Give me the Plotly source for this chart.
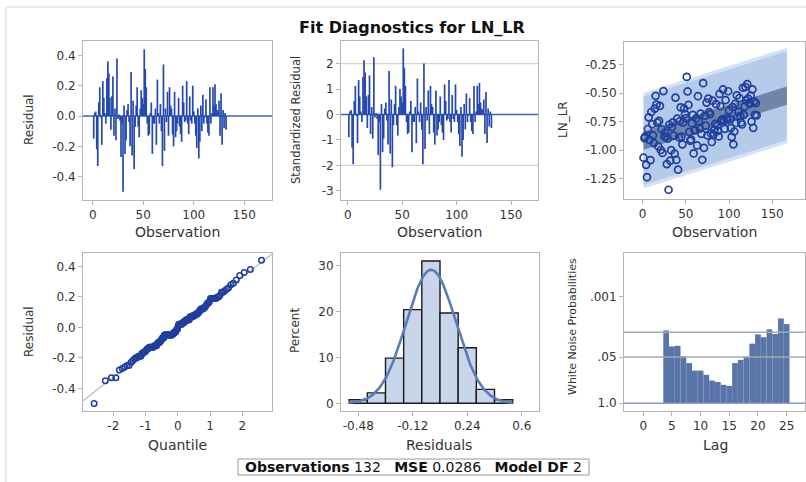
import numpy as np
import plotly.graph_objects as go
from statistics import NormalDist

# ---------------- data ----------------
residual = [
    -0.15, 0.02, 0.03, -0.22, -0.33, 0.09, 0.19, -0.01, -0.19, 0.23,
    0.12, 0.02, -0.05, 0.25, 0.36, 0.28, 0.12, -0.09, 0.13, 0.26,
    -0.13, 0.05, -0.16, 0.38, -0.02, 0.01, -0.03, -0.27, -0.05, -0.50,
    0.07, -0.25, -0.16, 0.04, 0.08, -0.04, -0.20, 0.29, -0.26, 0.10,
    -0.35, -0.07, 0.07, 0.19, -0.07, -0.14, 0.05, 0.17, 0.12, 0.08,
    0.44, 0.31, 0.19, -0.05, -0.13, -0.12, 0.02, 0.09, -0.25, -0.05,
    -0.05, 0.05, -0.19, 0.24, 0.02, -0.05, 0.08, -0.10, -0.33, 0.34,
    -0.23, 0.05, -0.04, 0.16, -0.13, 0.19, 0.07, 0.05, -0.12, -0.20,
    0.16, -0.14, -0.10, -0.05, 0.12, -0.07, -0.12, -0.17, 0.20, 0.09,
    -0.04, -0.03, 0.23, -0.05, -0.12, 0.13, -0.03, -0.05, 0.20, 0.03,
    -0.05, -0.13, -0.21, 0.05, -0.28, -0.17, 0.07, -0.10, 0.14, -0.05,
    -0.01, 0.11, -0.05, -0.11, -0.13, 0.19, -0.05, 0.02, 0.19, 0.07,
    0.21, 0.08, 0.04, 0.03, 0.10, -0.13, 0.15, -0.19, 0.04, -0.08,
    0.02, -0.09,
]
n_obs = 132
mse = 0.0286
model_df = 2

fit_intercept = -0.92
fit_slope = 0.00238
band_obs = [1, 167]
ci_half = 0.08
pi_half = 0.39

# histogram of residuals (percent per bin)
hist_centers = [-0.48, -0.36, -0.24, -0.12, 0.0, 0.12, 0.24, 0.36, 0.48]
hist_percent = [0.76, 2.27, 9.85, 20.45, 31.06, 19.70, 12.12, 3.03, 0.76]
hist_width = 0.12

# white noise probabilities
wn_lags = [4, 5, 6, 7, 8, 9, 10, 11, 12, 13, 14, 15, 16, 17, 18, 19, 20, 21, 22, 23, 24, 25]
wn_prob = [0.0089, 0.025, 0.024, 0.047, 0.074, 0.120, 0.120, 0.158, 0.229, 0.251, 0.302,
           0.324, 0.074, 0.060, 0.049, 0.021, 0.0115, 0.0138, 0.0083, 0.0112, 0.0041, 0.0059]
wn_ref_levels = [0.05, 0.01]

# tick labels
p1_xticks = [0, 50, 100, 150]
p1_yticks = [-0.4, -0.2, 0.0, 0.2, 0.4]
p1_ytext = ["-0.4", "-0.2", "0.0", "0.2", "0.4"]
p2_yticks = [-3, -2, -1, 0, 1, 2]
p2_ytext = ["-3", "-2", "-1", "0", "1", "2"]
p3_yticks = [-1.25, -1.00, -0.75, -0.50, -0.25]
p3_ytext = ["-1.25", "-1.00", "-0.75", "-0.50", "-0.25"]
p4_xticks = [-2, -1, 0, 1, 2]
p4_xtext = ["-2", "-1", "0", "1", "2"]
p5_xticks = [-0.48, -0.12, 0.24, 0.6]
p5_xtext = ["-0.48", "-0.12", "0.24", "0.6"]
p5_yticks = [0, 10, 20, 30]
p6_xticks = [0, 5, 10, 15, 20, 25]
p6_yprobs = [1.0, 0.05, 0.001]
p6_ytext = ["1.0", ".05", ".001"]

# ---------------- derived ----------------
res = np.array(residual)
obs = np.arange(1, n_obs + 1)
std_res = res / np.sqrt(mse)
ln_lr = fit_intercept + fit_slope * obs + res
mu, sd = float(res.mean()), float(res.std(ddof=1))
nd = NormalDist()
qq_x = [nd.inv_cdf((i - 0.375) / (n_obs + 0.25)) for i in range(1, n_obs + 1)]
qq_y = np.sort(res)

W, H = 806, 482
def xd(a, b):
    return [a / W, b / W]
def yd(top, bottom):
    return [1 - bottom / H, 1 - top / H]

FONT = "DejaVu Sans"
FRAME = "#b5b5b5"
TXT = "#333333"

def axis(domain, rng, tickvals, ticktext, anchor):
    return dict(domain=domain, range=rng, tickmode="array", tickvals=tickvals,
                ticktext=ticktext, anchor=anchor, showline=True, mirror=True,
                linecolor=FRAME, linewidth=1, ticks="outside", ticklen=4,
                tickwidth=1, tickcolor=FRAME, showgrid=False, zeroline=False,
                tickfont=dict(family=FONT, size=12, color=TXT), fixedrange=True)

fig = go.Figure()

NEEDLE = "#2549ad"

# ---- panel 1: residual needles
nx, ny = [], []
for o, r in zip(obs, res):
    nx += [o, o, None]
    ny += [0, r, None]
fig.add_trace(go.Scatter(x=nx, y=ny, mode="lines", line=dict(color=NEEDLE, width=1.7),
                         xaxis="x", yaxis="y", hoverinfo="skip"))

# ---- panel 2: standardized residual needles
sx, sy = [], []
for o, r in zip(obs, std_res):
    sx += [o, o, None]
    sy += [0, r, None]
fig.add_trace(go.Scatter(x=sx, y=sy, mode="lines", line=dict(color=NEEDLE, width=1.7),
                         xaxis="x2", yaxis="y2", hoverinfo="skip"))

# ---- panel 3: LN_LR with bands
bx = np.array(band_obs, dtype=float)
bfit = fit_intercept + fit_slope * bx
def band(half, color, name):
    fig.add_trace(go.Scatter(x=list(bx) + list(bx[::-1]),
                             y=list(bfit - half) + list((bfit + half)[::-1]),
                             fill="toself", fillcolor=color, line=dict(width=0),
                             mode="lines", xaxis="x3", yaxis="y3", hoverinfo="skip", name=name))
band(pi_half + 0.03, "rgba(208,222,243,0.9)", "pi_fringe")
band(pi_half, "#b6cbea", "pi")
band(ci_half, "#6f85a9", "ci")
fig.add_trace(go.Scatter(x=obs, y=ln_lr, mode="markers",
                         marker=dict(symbol="circle-open", size=7, color="#1f3f9e",
                                     line=dict(width=1.7)),
                         xaxis="x3", yaxis="y3", hoverinfo="skip"))

# ---- panel 4: QQ plot
p4_xrange = [-2.94, 2.92]
fig.add_trace(go.Scatter(x=p4_xrange, y=[mu + sd * v for v in p4_xrange], mode="lines",
                         line=dict(color="#b8b8b8", width=1.2), xaxis="x4", yaxis="y4",
                         hoverinfo="skip"))
fig.add_trace(go.Scatter(x=qq_x, y=qq_y, mode="markers",
                         marker=dict(symbol="circle-open", size=5.5, color="#1f3f9e",
                                     line=dict(width=1.5)),
                         xaxis="x4", yaxis="y4", hoverinfo="skip"))

# ---- panel 5: histogram + normal curve
fig.add_trace(go.Bar(x=hist_centers, y=hist_percent, width=hist_width,
                     marker=dict(color="#c9d5ea", line=dict(color="#1a1a1a", width=1.4)),
                     xaxis="x5", yaxis="y5", hoverinfo="skip"))
cx = np.linspace(hist_centers[0] - hist_width / 2, hist_centers[-1] + hist_width / 2, 200)
cy = [NormalDist(mu, sd).pdf(v) * hist_width * 100 for v in cx]
fig.add_trace(go.Scatter(x=cx, y=cy, mode="lines", line=dict(color="#5a7db5", width=2.6),
                         xaxis="x5", yaxis="y5", hoverinfo="skip"))

# ---- panel 6: white noise probabilities
wn_h = [-np.log10(p) for p in wn_prob]
fig.add_trace(go.Bar(x=wn_lags, y=wn_h, width=1.0,
                     marker=dict(color="#5874a8", line=dict(width=0)),
                     xaxis="x6", yaxis="y6", hoverinfo="skip"))

shapes = []
# zero lines in needle plots
for ax in ["", "2"]:
    shapes.append(dict(type="line", xref=f"x{ax} domain", yref=f"y{ax}", x0=0, x1=1, y0=0, y1=0,
                       line=dict(color="#3a62bf", width=1.5), layer="below"))
for lv in [-2, 2]:
    shapes.append(dict(type="line", xref="x2 domain", yref="y2", x0=0, x1=1, y0=lv, y1=lv,
                       line=dict(color="#dccfc6", width=1.2), layer="below"))
for lv in wn_ref_levels:
    shapes.append(dict(type="line", xref="x6 domain", yref="y6", x0=0, x1=1,
                       y0=-np.log10(lv), y1=-np.log10(lv),
                       line=dict(color="#a8a8a8", width=1.4), layer="above"))
shapes.append(dict(type="line", xref="x6 domain", yref="y6", x0=0, x1=1, y0=0, y1=0,
                   line=dict(color="#8a9cc2", width=1.4), layer="above"))
# outer graph border
shapes.append(dict(type="line", xref="paper", yref="paper", x0=6 / W, x1=1.0, y0=1 - 7 / H,
                   y1=1 - 7 / H, line=dict(color="#d6d6d6", width=1)))
shapes.append(dict(type="line", xref="paper", yref="paper", x0=6 / W, x1=6 / W, y0=0,
                   y1=1 - 7 / H, line=dict(color="#d6d6d6", width=1)))
# statistics box
shapes.append(dict(type="rect", xref="paper", yref="paper", x0=238 / W, x1=589 / W,
                   y0=1 - 475 / H, y1=1 - 459 / H, line=dict(color="#9a9a9a", width=1),
                   fillcolor="white"))

annotations = []
def ann(text, xpx, ypx, size, angle=0, bold=False):
    annotations.append(dict(text=f"<b>{text}</b>" if bold else text, xref="paper", yref="paper",
                            x=xpx / W, y=1 - ypx / H, xanchor="center", yanchor="middle",
                            showarrow=False, textangle=angle,
                            font=dict(family=FONT, size=size, color="#111" if bold else TXT)))

ann("Fit Diagnostics for LN_LR", 412, 27, 16, bold=True)
ann("Observation", 177.5, 232, 14)
ann("Observation", 439.5, 232, 14)
ann("Observation", 714.5, 232, 14)
ann("Quantile", 177, 445, 14)
ann("Residuals", 439, 445, 14)
ann("Lag", 715, 445, 14)
ann("Residual", 29, 120, 12, angle=-90)
ann("Standardized Residual", 296, 120, 11.5, angle=-90)
ann("LN_LR", 563, 120, 12, angle=-90)
ann("Residual", 29, 332, 12, angle=-90)
ann("Percent", 295, 331, 12, angle=-90)
ann("White Noise Probabilities", 572, 327, 11, angle=-90)

nb = "\u00a0"
stats_text = (f"<b>Observations</b> {n_obs}{nb}{nb} <b>MSE</b> {mse:.4f}{nb}{nb} "
              f"<b>Model DF</b> {model_df}")
annotations.append(dict(text=stats_text, xref="paper", yref="paper", x=413.5 / W,
                        y=1 - 467 / H, xanchor="center", yanchor="middle", showarrow=False,
                        font=dict(family=FONT, size=14, color="#111")))

fig.update_layout(
    width=W, height=H, margin=dict(l=0, r=0, t=0, b=0),
    paper_bgcolor="white", plot_bgcolor="white", showlegend=False,
    shapes=shapes, annotations=annotations,
    xaxis=axis(xd(83, 272), [-9.6, 177.4], p1_xticks, [str(v) for v in p1_xticks], "y"),
    yaxis=axis(yd(41, 200), [-0.554, 0.495], p1_yticks, p1_ytext, "x"),
    xaxis2=axis(xd(341, 538), [-6.2, 174.8], p1_xticks, [str(v) for v in p1_xticks], "y2"),
    yaxis2=axis(yd(41, 200), [-3.36, 2.89], p2_yticks, p2_ytext, "x2"),
    xaxis3=axis(xd(624, 805), [-21.6, 187.9], p1_xticks, [str(v) for v in p1_xticks], "y3"),
    yaxis3=axis(yd(42, 199), [-1.43, -0.052], p3_yticks, p3_ytext, "x3"),
    xaxis4=axis(xd(83, 272), p4_xrange, p4_xticks, p4_xtext, "y4"),
    yaxis4=axis(yd(253, 411), [-0.549, 0.488], p1_yticks, p1_ytext, "x4"),
    xaxis5=axis(xd(341, 539), [-0.594, 0.714], p5_xticks, p5_xtext, "y5"),
    yaxis5=axis(yd(253, 411), [-1.68, 32.8], p5_yticks, [str(v) for v in p5_yticks], "x5"),
    xaxis6=axis(xd(624, 805), [-3.35, 28.2], p6_xticks, [str(v) for v in p6_xticks], "y6"),
    yaxis6=axis(yd(253, 411), [-0.217, 4.23], [-np.log10(p) for p in p6_yprobs], p6_ytext, "x6"),
)

fig.write_html("out.html", config={"displayModeBar": False},
               post_script="document.body.style.margin='0px';document.body.style.overflow='hidden';")
